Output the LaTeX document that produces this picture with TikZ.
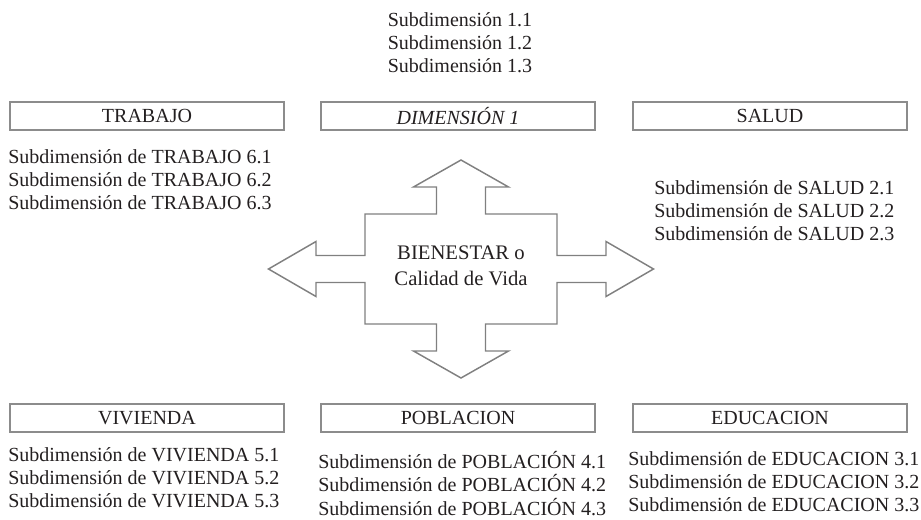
\documentclass[tikz,border=0pt]{standalone}
\usepackage{fontspec}
\setmainfont{Liberation Serif}
\usetikzlibrary{positioning,calc}
\definecolor{boxgray}{RGB}{140,140,140}
\definecolor{arrowgray}{RGB}{128,128,128}
\definecolor{txtgray}{RGB}{35,31,32}
\tikzstyle{dimbox} = [rectangle, draw=boxgray, line width=0.9pt, minimum width=205.5pt, minimum height=21pt, inner sep=0pt, text=txtgray, font=\fontsize{15}{17.5}\selectfont]
\tikzstyle{subdim} = [inner sep=0pt, align=left, anchor=north west, text=txtgray, font=\fontsize{15}{17.5}\selectfont]
\tikzstyle{bigarrow} = [draw=arrowgray, line width=1.1pt, line join=miter]

\begin{document}
\begin{tikzpicture}[x=0.75pt, y=-0.75pt]
		\useasboundingbox (0,0) rectangle (921,520);
		% Row 1
		\node[dimbox] (Trabajo) at (147,116) {TRABAJO};
		\node[dimbox] (Dimension) at (458,116) {\textit{DIMENSIÓN 1}};
		\node[dimbox] (Salud) at (770,116) {SALUD};
		\node[subdim, anchor=north, align=center] (SubDimension) at (460,12) {Subdimensión 1.1\\Subdimensión 1.2\\Subdimensión 1.3};
		\node[subdim] (SubTrabajo) at (8,149) {Subdimensión de TRABAJO 6.1\\Subdimensión de TRABAJO 6.2\\Subdimensión de TRABAJO 6.3};
		\node[subdim] (SubSalud) at (654,180) {Subdimensión de SALUD 2.1\\Subdimensión de SALUD 2.2\\Subdimensión de SALUD 2.3};
		
		% Centre
		\begin{scope}[shift={(461,269)}]
			\path[bigarrow] (0,-109) -- (47.5,-82) -- (24.5,-82) -- (24.5,-55) -- (96,-55) -- (96,-13.5) -- (145,-13.5) -- (145,-27.5) -- (192.5,0) -- (145,27.5) -- (145,13.5) -- (96,13.5) -- (96,55) -- (24.5,55) -- (24.5,82) -- (47.5,82) -- (0,109) -- (-47.5,82) -- (-24.5,82) -- (-24.5,55) -- (-96,55) -- (-96,13.5) -- (-145,13.5) -- (-145,27.5) -- (-192.5,0) -- (-145,-27.5) -- (-145,-13.5) -- (-96,-13.5) -- (-96,-55) -- (-24.5,-55) -- (-24.5,-82) -- (-47.5,-82) -- cycle;
		\end{scope}
		\node[subdim, anchor=center, align=center, font=\fontsize{15.5}{19.5}\selectfont] (Bienestar) at (461,266) {BIENESTAR o\\Calidad de Vida};
		
		% Row 2
		\node[dimbox] (Vivienda) at (147,418) {VIVIENDA};
		\node[dimbox] (Poblacion) at (458,418) {POBLACION};
		\node[dimbox] (Educacion) at (770,418) {EDUCACION};
		\node[subdim] (SubVivienda) at (8,447) {Subdimensión de VIVIENDA 5.1\\Subdimensión de VIVIENDA 5.2\\Subdimensión de VIVIENDA 5.3};
		\node[subdim] (SubPoblacion) at (318,451) {Subdimensión de POBLACIÓN 4.1\\Subdimensión de POBLACIÓN 4.2\\Subdimensión de POBLACIÓN 4.3};
		\node[subdim] (SubEducacion) at (628,451) {Subdimensión de EDUCACION 3.1\\Subdimensión de EDUCACION 3.2\\Subdimensión de EDUCACION 3.3};
		
	\end{tikzpicture}
\end{document}
